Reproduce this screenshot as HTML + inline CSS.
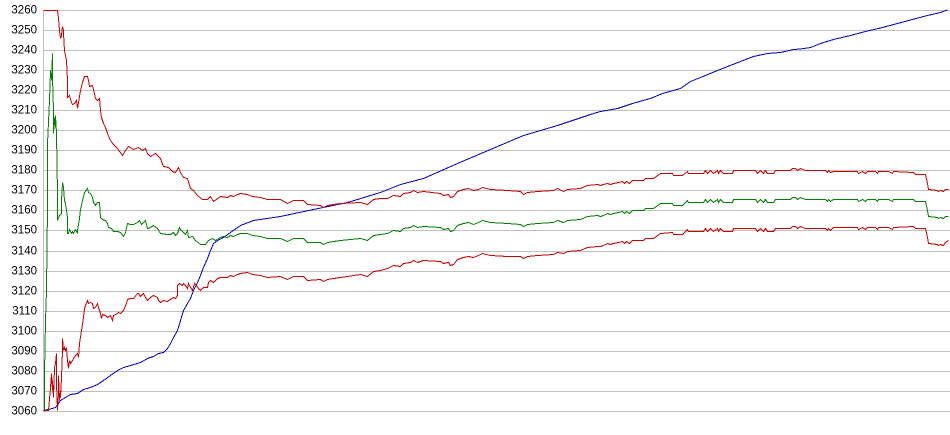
<!DOCTYPE html>
<html>
<head>
<meta charset="utf-8">
<style>
  html, body { margin: 0; padding: 0; background: #ffffff; }
  body { width: 950px; height: 435px; overflow: hidden; }
  svg { display: block; }
  text { font-family: "Liberation Sans", Arial, sans-serif; font-size: 11.5px; fill: #000; }
</style>
</head>
<body>
<svg width="950" height="435" viewBox="0 0 950 435" xmlns="http://www.w3.org/2000/svg">
  <rect x="0" y="0" width="950" height="435" fill="#ffffff"/>
  <g stroke="#c0c0c0" stroke-width="1" shape-rendering="crispEdges">
    <line x1="43" y1="10.5" x2="950" y2="10.5"/>
    <line x1="43" y1="30.5" x2="950" y2="30.5"/>
    <line x1="43" y1="50.5" x2="950" y2="50.5"/>
    <line x1="43" y1="70.5" x2="950" y2="70.5"/>
    <line x1="43" y1="90.5" x2="950" y2="90.5"/>
    <line x1="43" y1="110.5" x2="950" y2="110.5"/>
    <line x1="43" y1="130.5" x2="950" y2="130.5"/>
    <line x1="43" y1="150.5" x2="950" y2="150.5"/>
    <line x1="43" y1="170.5" x2="950" y2="170.5"/>
    <line x1="43" y1="190.5" x2="950" y2="190.5"/>
    <line x1="43" y1="210.5" x2="950" y2="210.5"/>
    <line x1="43" y1="230.5" x2="950" y2="230.5"/>
    <line x1="43" y1="251.5" x2="950" y2="251.5"/>
    <line x1="43" y1="271.5" x2="950" y2="271.5"/>
    <line x1="43" y1="291.5" x2="950" y2="291.5"/>
    <line x1="43" y1="311.5" x2="950" y2="311.5"/>
    <line x1="43" y1="331.5" x2="950" y2="331.5"/>
    <line x1="43" y1="351.5" x2="950" y2="351.5"/>
    <line x1="43" y1="371.5" x2="950" y2="371.5"/>
    <line x1="43" y1="391.5" x2="950" y2="391.5"/>
    <line x1="43" y1="411.5" x2="950" y2="411.5"/>
    <line x1="43.5" y1="10" x2="43.5" y2="412"/>
  </g>
  <g text-anchor="end">
    <text x="37" y="13.5">3260</text>
    <text x="37" y="33.5">3250</text>
    <text x="37" y="53.5">3240</text>
    <text x="37" y="73.5">3230</text>
    <text x="37" y="93.5">3220</text>
    <text x="37" y="113.5">3210</text>
    <text x="37" y="133.5">3200</text>
    <text x="37" y="153.5">3190</text>
    <text x="37" y="173.5">3180</text>
    <text x="37" y="193.5">3170</text>
    <text x="37" y="213.5">3160</text>
    <text x="37" y="233.5">3150</text>
    <text x="37" y="254.5">3140</text>
    <text x="37" y="274.5">3130</text>
    <text x="37" y="294.5">3120</text>
    <text x="37" y="314.5">3110</text>
    <text x="37" y="334.5">3100</text>
    <text x="37" y="354.5">3090</text>
    <text x="37" y="374.5">3080</text>
    <text x="37" y="394.5">3070</text>
    <text x="37" y="414.5">3060</text>
  </g>

  <g fill="none" stroke-width="1" shape-rendering="crispEdges" transform="translate(0.5,0.5)">
    <!-- blue -->
    <polyline stroke="#0000cc" points="43,410 48,409 55,407 60,400 65,397 70,394 77,393 83,389 90,387 97,384 103,380 110,375 117,370 123,367 130,365 140,362 147,358 153,356 158,353 163,352 167,348 170,343 173,337 177,330 180,320 183,310 187,303 190,298 193,290 197,282 200,275 203,267 207,258 210,250 213,243 217,240 223,237 230,232 240,225 253,220 280,216 313,209 347,202 380,192 400,184 423,178 457,163 490,149 523,135 557,125 590,114 600,111 617,108 632,103 650,98 662,93 680,88 690,81 700,77 717,70 740,61 753,56 767,53 780,52 793,49 800,48.5 810,47 820,43 833,39 850,35 865,31 882,27 897,23 912,19 927,15 940,12 947,9.5"/>

    <!-- green -->
    <polyline stroke="#008000" points="44,411 44,372 45,320 46,290 47,207 47,143 49,100 50,70 51,80 52,53 52,77 53,110 53,133 54,117 55,127 55,115 56,133 57,193 57,220 59,215 61,213 61,200 62,182 63,187 64,200 65,203 67,217 67,233 68,233 69,229 71,233 72,231 73,233 75,229 77,233 77,230 79,218 80,209 82,200 84,192 87,188 88,192 90,193 92,197 93,202 95,205 97,202 99,202 100,217 102,219 105,220 107,223 108,227 111,228 113,231 117,231 120,232 123,236 125,232 127,223 130,224 133,224 137,222 139,220 141,224 143,222 145,220 147,228 150,227 153,225 157,228 160,233 167,234 170,234 173,232 175,235 177,233 179,227 180,229 183,232 185,234 187,230 188,237 192,236 195,240 200,244 205,244 208,240 212,238 215,240 220,237 223,236 227,237 230,235 233,236 237,234 240,233 247,233 252,235 260,236 267,238 280,238 287,241 293,238 303,238 307,242 320,242 323,244 327,242 333,241 340,240 360,238 367,240 373,235 380,234 387,233 393,230 400,231 403,228 410,227 413,225 417,227 423,226 440,227 443,229 448,228 450,231 453,230 457,225 463,223 468,222 473,224 478,222 482,220 490,222 507,223 520,224 523,226 527,224 537,223 553,222 557,220 563,222 567,220 580,219 587,216 597,215 600,216 603,215 607,213 610,214 613,213 618,212 622,211 624,213 626,211 629,213 632,210 643,210 645,208 653,208 660,203 672,203 673,205 682,205 687,200 688,202 703,202 705,199 707,202 710,199 713,202 717,199 718,202 720,199 723,202 732,202 733,199 755,199 757,202 760,199 763,202 765,199 767,202 773,202 775,199 790,199 792,197 795,197 797,199 800,197 805,199 825,199 827,201 828,199 830,201 833,199 857,199 858,201 862,199 865,201 867,199 875,199 877,201 878,199 888,199 892,201 893,199 913,199 915,201 925,201 927,210 928,216 937,217 938,218 940,217 943,218 945,216 948,216"/>

    <!-- upper red -->
    <polyline stroke="#cc0000" points="43,10 57,10 58,18 59,30 60,38 61,35 62,26 63,30 63,33 64,50 65,55 66,60 67,80 67,97 69,95 71,102 72,104 74,103 76,100 77,108 78,102 80,90 82,82 84,76 87,76 88,80 89,86 92,85 93,89 95,98 97,100 99,98 100,110 101,117 103,123 105,127 107,133 109,138 112,143 117,148 122,155 125,150 128,146 133,149 138,147 142,150 145,148 147,153 150,156 155,153 160,158 163,166 168,167 172,171 175,172 178,167 180,172 183,177 187,178 190,188 193,190 197,195 202,199 207,199 210,196 213,201 220,196 227,197 230,195 233,196 237,194 240,193 247,194 252,196 260,197 267,199 280,199 287,203 293,200 303,200 307,204 320,205 323,207 327,205 333,204 340,203 360,202 367,204 373,199 380,198 387,198 393,195 400,196 403,193 410,192 413,190 417,192 423,191 440,193 443,195 448,194 450,197 453,196 457,191 463,189 468,188 473,190 478,189 482,187 490,189 507,190 520,191 523,194 527,192 537,191 553,190 557,188 563,191 567,189 580,188 587,185 597,184 600,185 603,184 607,183 610,184 613,183 618,182 622,181 624,183 626,181 629,183 632,180 643,180 645,178 653,178 660,173 672,173 673,175 682,175 687,171 688,173 703,173 705,170 707,173 710,170 713,173 717,170 718,173 720,170 723,173 732,173 733,170 755,170 757,173 760,170 763,173 765,170 767,173 773,173 775,170 790,170 792,168 795,168 797,170 800,168 805,170 825,170 827,172 828,170 830,172 833,171 857,171 858,173 862,171 865,173 867,171 875,171 877,173 878,171 888,171 892,173 893,171 913,172 915,174 925,174 927,183 928,189 937,190 938,191 940,190 943,191 945,189 948,189"/>

    <!-- lower red -->
    <polyline stroke="#cc0000" points="43,410 48,410 50,387 51,373 52,390 52,380 53,397 54,367 55,363 56,353 56,383 57,410 58,393 58,375 59,400 60,390 60,397 61,377 62,350 62,338 63,350 64,347 65,350 66,348 67,360 68,368 69,360 70,363 72,360 73,358 75,355 77,353 78,357 79,343 81,330 83,317 84,308 85,305 87,300 88,303 90,302 92,303 93,308 95,307 97,303 98,307 100,313 101,318 102,314 105,315 107,317 110,315 112,320 113,315 117,313 118,312 120,313 123,310 126,303 127,299 130,298 133,298 137,293 138,293 140,296 142,294 143,293 145,297 147,300 150,297 153,295 157,297 158,300 160,302 163,300 167,301 170,299 173,297 175,298 177,295 177,285 179,283 182,285 183,283 185,285 187,288 188,283 190,287 192,290 194,283 196,285 198,288 200,290 203,287 207,287 208,282 210,280 213,282 217,278 220,277 227,277 230,275 233,276 237,274 240,273 247,272 252,274 260,275 267,277 280,276 287,279 293,276 303,276 307,280 320,279 323,281 327,279 333,278 340,277 360,274 367,276 373,271 380,270 387,268 393,265 400,266 403,263 410,262 413,260 417,262 423,260 440,261 443,263 448,262 450,265 453,264 457,259 463,257 468,256 473,257 478,255 482,253 490,255 507,256 520,256 523,258 527,256 537,255 553,254 557,252 563,253 567,251 580,250 587,247 597,246 600,246 603,245 607,243 610,244 613,243 618,242 622,241 624,243 626,241 629,243 632,240 643,240 645,238 653,238 660,233 672,232 673,234 682,234 687,229 688,231 703,231 705,228 707,231 710,228 713,231 717,228 718,231 720,228 723,231 732,231 733,228 755,228 757,231 760,228 763,231 765,228 767,231 773,231 775,228 790,228 792,226 795,226 797,228 800,226 805,228 825,228 827,230 828,228 830,230 833,227 857,227 858,229 862,227 865,229 867,227 875,227 877,229 878,227 888,227 892,229 893,227 913,226 915,228 925,228 927,237 928,243 937,244 938,245 940,244 943,245 945,242 948,240"/>
  </g>
</svg>
</body>
</html>
